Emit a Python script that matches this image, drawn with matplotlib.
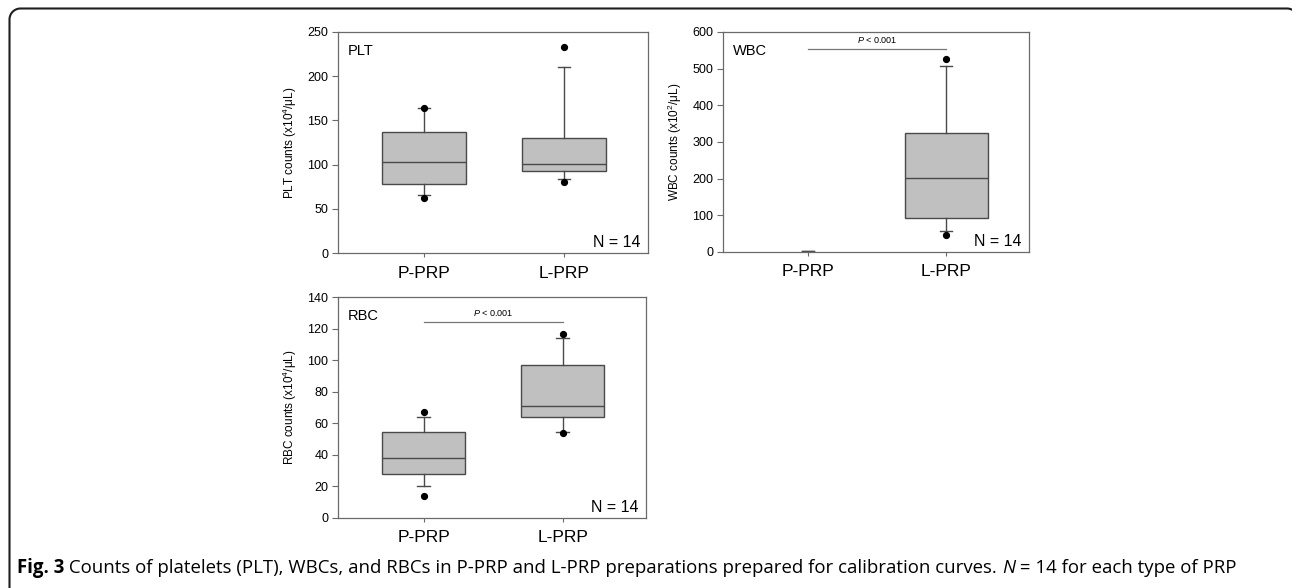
import matplotlib
matplotlib.use("Agg")
import numpy as np
import matplotlib.pyplot as plt
from matplotlib.lines import Line2D
from matplotlib import font_manager

plt.rcParams['font.family'] = ['Liberation Sans', 'DejaVu Sans']
plt.rcParams['mathtext.fontset'] = 'custom'
plt.rcParams['mathtext.rm'] = 'Liberation Sans'
plt.rcParams['mathtext.it'] = 'Liberation Sans:italic'

categories = ["P-PRP", "L-PRP"]
n_label = "N = 14"

# stats: [p5, p10, q1, median, q3, p90, p95]
plt_stats = {"P-PRP": [61.8, 65.6, 78.4, 103.3, 137.2, 164.0, 164.0],
             "L-PRP": [80.7, 84.0, 93.1, 100.7, 130.4, 210.8, 233.4]}
wbc_stats = {"P-PRP": [1.5, 1.5, 1.5, 1.5, 1.5, 1.5, 1.5],
             "L-PRP": [46.4, 58.0, 91.8, 200.9, 325.4, 507.0, 525.5]}
rbc_stats = {"P-PRP": [13.9, 20.5, 27.9, 37.8, 54.3, 64.2, 67.0],
             "L-PRP": [54.0, 54.7, 63.8, 70.9, 96.7, 113.8, 116.4]}

plt_ticks = [0, 50, 100, 150, 200, 250]
wbc_ticks = [0, 100, 200, 300, 400, 500, 600]
rbc_ticks = [0, 20, 40, 60, 80, 100, 120, 140]

wbc_p_bar = 553.6
rbc_p_bar = 124.2
p_text = "$\\it{P}$ < 0.001"

caption_bold = "Fig. 3"
caption_rest = (" Counts of platelets (PLT), WBCs, and RBCs in P-PRP and L-PRP preparations "
                "prepared for calibration curves. ")
caption_n = "N"
caption_end = " = 14 for each type of PRP"

W, H = 1292, 588
fig = plt.figure(figsize=(W / 100, H / 100), dpi=100)

SPINE = "#6a6a6a"
EDGE = "#4a4a4a"
FILL = "#c0c0c0"


def add_ax(left, top, right, bottom):
    return fig.add_axes([left / W, 1 - bottom / H, (right - left) / W, (bottom - top) / H])


def make_stats(vals, label):
    p5, p10, q1, med, q3, p90, p95 = vals
    return dict(label=label, whislo=p10, q1=q1, med=med, q3=q3, whishi=p90, fliers=[])


def draw_box(ax, stats_dict, hide_first=False):
    for i, cat in enumerate(categories):
        s = make_stats(stats_dict[cat], cat)
        vals = stats_dict[cat]
        collapsed = hide_first and i == 0
        ax.bxp([s], positions=[i + 1], widths=0.6, patch_artist=True,
               showbox=not collapsed, showfliers=False, capwidths=[0.09],
               boxprops=dict(facecolor=FILL, edgecolor=EDGE, linewidth=1.0),
               medianprops=dict(color=EDGE, linewidth=1.0 if not collapsed else 0),
               whiskerprops=dict(color=EDGE, linewidth=1.0),
               capprops=dict(color=EDGE, linewidth=1.0), manage_ticks=False)
        if not collapsed:
            ax.plot([i + 1, i + 1], [vals[0], vals[6]], linestyle='none', marker='o',
                    color='black', markersize=4.2, zorder=5)


def style(ax, ticks, ylabel, name):
    ax.set_xlim(0.385, 2.6)
    ax.set_ylim(ticks[0], ticks[-1])
    ax.set_yticks(ticks)
    ax.set_xticks([1, 2])
    ax.set_xticklabels(categories, fontsize=12.5)
    ax.tick_params(axis='y', labelsize=9, length=4, width=0.8, color=SPINE, pad=3)
    ax.tick_params(axis='x', length=3, width=0.8, color=SPINE, pad=6)
    for sp in ax.spines.values():
        sp.set_color(SPINE)
        sp.set_linewidth(0.9)
    ax.set_ylabel(ylabel, fontsize=8.5, labelpad=6)
    ax.text(10 / 306, 1 - 12 / 221, name, transform=ax.transAxes, fontsize=10.5,
            va='top', ha='left')
    ax.text(1 - 7 / 306, 6 / 221, n_label, transform=ax.transAxes, fontsize=11.5,
            va='baseline', ha='right')


def p_bar(ax, y, txt):
    ax.plot([1, 2], [y, y], color='#777777', linewidth=0.9)
    ax.annotate(txt, xy=(1.5, y), xytext=(0, 3), textcoords='offset points',
                ha='center', va='bottom', fontsize=6.5)


ax1 = add_ax(338, 32, 648, 253)
draw_box(ax1, plt_stats)
style(ax1, plt_ticks, "PLT counts (x10$^{4}$/μL)", "PLT")

ax2 = add_ax(723, 32, 1029, 252)
draw_box(ax2, wbc_stats, hide_first=True)
style(ax2, wbc_ticks, "WBC counts (x10$^{2}$/μL)", "WBC")
p_bar(ax2, wbc_p_bar, p_text)

ax3 = add_ax(338, 297, 646, 518)
draw_box(ax3, rbc_stats)
style(ax3, rbc_ticks, "RBC counts (x10$^{4}$/μL)", "RBC")
p_bar(ax3, rbc_p_bar, p_text)

# outer frame: left edge, rounded top-left corner, top edge, start of top-right corner
r = 11.0
x_left, y_top, x_right = 9.5, 8.5, 1298.0
th1 = np.linspace(np.pi, np.pi / 2, 20)
cx1, cy1 = x_left + r, y_top + r
th2 = np.linspace(np.pi / 2, 0, 20)
cx2, cy2 = x_right - r, y_top + r
px = np.concatenate([[x_left], cx1 + r * np.cos(th1), cx2 + r * np.cos(th2), [x_right]])
py = np.concatenate([[H + 20], cy1 - r * np.sin(th1), cy2 - r * np.sin(th2), [H + 20]])
frame = Line2D(px / W, 1 - py / H, transform=fig.transFigure, color="#1e1e1e",
               linewidth=1.5, solid_joinstyle='round')
fig.add_artist(frame)

# caption
names = {f.name for f in font_manager.fontManager.ttflist}
cap_family = 'Liberation Sans Narrow' if 'Liberation Sans Narrow' in names else 'Open Sans'
cap_size = 12.6 if cap_family == 'Liberation Sans Narrow' else 13.45

cap_y = 1 - 568 / H
t = fig.text(17 / W, cap_y, caption_bold, fontsize=cap_size, fontweight='bold',
             family=cap_family, va='center', ha='left')
fig.canvas.draw()
rend = fig.canvas.get_renderer()
x = t.get_window_extent(rend).x1
t2 = fig.text(x / W, cap_y, caption_rest, fontsize=cap_size, family=cap_family,
              va='center', ha='left')
x = t2.get_window_extent(rend).x1
t3 = fig.text(x / W, cap_y, caption_n, fontsize=cap_size, family=cap_family, style='italic',
              va='center', ha='left')
x = t3.get_window_extent(rend).x1
fig.text(x / W, cap_y, caption_end, fontsize=cap_size, family=cap_family,
         va='center', ha='left')

fig.savefig("out.png", dpi=100)
